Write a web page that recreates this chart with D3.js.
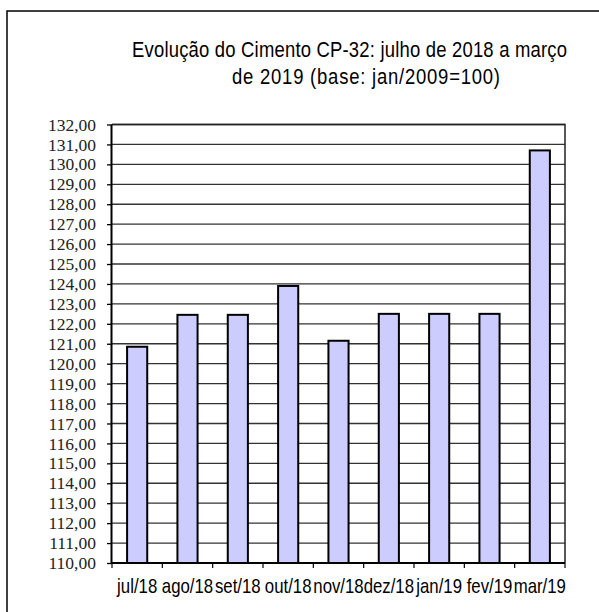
<!DOCTYPE html>
<html lang="pt">
<head>
  <meta charset="UTF-8">
  <title>Evolução do Cimento CP-32</title>
  <script src="https://d3js.org/d3.v7.min.js"></script>
  <style>
    body { margin: 0; background: #fff; overflow: hidden; }
    svg { display: block; }
  </style>
</head>
<body>
  <svg id="chart"></svg>
  <script>
    // Data
    const months = ["jul/18", "ago/18", "set/18", "out/18", "nov/18", "dez/18", "jan/19", "fev/19", "mar/19"];
    const values = [120.85, 122.45, 122.45, 123.9, 121.15, 122.5, 122.5, 122.5, 130.7];
    const yTicks = d3.range(110, 133, 1);
    const titleLines = ["Evolução  do Cimento CP-32: julho  de 2018 a  março", "de 2019 (base: jan/2009=100)"];

    const width = 599, height = 612;
    const margin = { top: 124.5, right: 34, bottom: 49, left: 112 };
    const narrow = 0.84; // squeeze factor to mimic Arial Narrow
    const sans = "'Liberation Sans', Arial, sans-serif";

    const svg = d3.select("#chart").attr("width", width).attr("height", height);

    // outer chart frame (only top and left edges visible)
    svg.append("rect")
      .attr("x", 7).attr("y", 11)
      .attr("width", 700).attr("height", 700)
      .attr("fill", "none").attr("stroke", "#000").attr("stroke-width", 1.5);

    // title, two lines, squeezed horizontally
    svg.append("text")
      .attr("transform", `translate(132,57) scale(${narrow},1)`)
      .attr("textLength", 435 / narrow).attr("lengthAdjust", "spacing")
      .attr("font-family", sans)
      .attr("font-size", 22)
      .text(titleLines[0]);
    svg.append("text")
      .attr("transform", `translate(232,84) scale(${narrow},1)`)
      .attr("textLength", 268 / narrow).attr("lengthAdjust", "spacing")
      .attr("font-family", sans)
      .attr("font-size", 22)
      .text(titleLines[1]);

    const x = d3.scaleBand()
      .domain(months)
      .range([margin.left, width - margin.right])
      .paddingInner(0.6).paddingOuter(0.3);

    const xEdges = d3.scaleLinear()
      .domain([0, months.length])
      .range([margin.left, width - margin.right]);

    const y = d3.scaleLinear()
      .domain([110, 132])
      .range([height - margin.bottom, margin.top]);

    // gridlines
    svg.append("g")
      .selectAll("line")
      .data(yTicks)
      .join("line")
      .attr("x1", margin.left).attr("x2", width - margin.right)
      .attr("y1", d => y(d)).attr("y2", d => y(d))
      .attr("stroke", "#333").attr("stroke-width", 1.3);

    // plot border (top, right)
    svg.append("path")
      .attr("d", `M${margin.left},${y(132)}H${width - margin.right}V${y(110)}`)
      .attr("fill", "none").attr("stroke", "#222").attr("stroke-width", 1.5);

    // bars
    svg.append("g")
      .selectAll("rect")
      .data(values)
      .join("rect")
      .attr("x", (d, i) => x(months[i]))
      .attr("width", x.bandwidth())
      .attr("y", d => y(d))
      .attr("height", d => y(110) - y(d))
      .attr("fill", "#ccccff")
      .attr("stroke", "#000").attr("stroke-width", 2);

    // y axis
    const yAxis = d3.axisLeft(y)
      .tickValues(yTicks)
      .tickSize(5)
      .tickPadding(11)
      .tickFormat(d => d3.format(".2f")(d).replace(".", ","));
    const gy = svg.append("g")
      .attr("transform", `translate(${margin.left},0)`)
      .call(yAxis);
    gy.select(".domain").attr("stroke-width", 2).attr("d", `M-0.5,${y(110)}V${y(132)}`);
    gy.selectAll(".tick line").attr("stroke-width", 1.3);
    gy.selectAll("text")
      .attr("font-family", "'Liberation Serif', 'Times New Roman', serif")
      .attr("font-size", 17.5)
      .attr("fill", "#222");

    // x axis: ticks at category boundaries
    const gx = svg.append("g")
      .attr("transform", `translate(0,${y(110)})`);
    gx.append("line")
      .attr("x1", margin.left).attr("x2", width - margin.right)
      .attr("stroke", "#000").attr("stroke-width", 2);
    gx.selectAll(".edge")
      .data(d3.range(months.length + 1))
      .join("line")
      .attr("class", "edge")
      .attr("x1", d => xEdges(d)).attr("x2", d => xEdges(d))
      .attr("y1", 0).attr("y2", 5)
      .attr("stroke", "#000").attr("stroke-width", 1.2);
    gx.selectAll(".lab")
      .data(months)
      .join("text")
      .attr("class", "lab")
      .attr("transform", d => `translate(${x(d) + x.bandwidth() / 2},30) scale(${narrow},1)`)
      .attr("text-anchor", "middle")
      .attr("font-family", sans)
      .attr("font-size", 20)
      .text(d => d);
  </script>
</body>
</html>
